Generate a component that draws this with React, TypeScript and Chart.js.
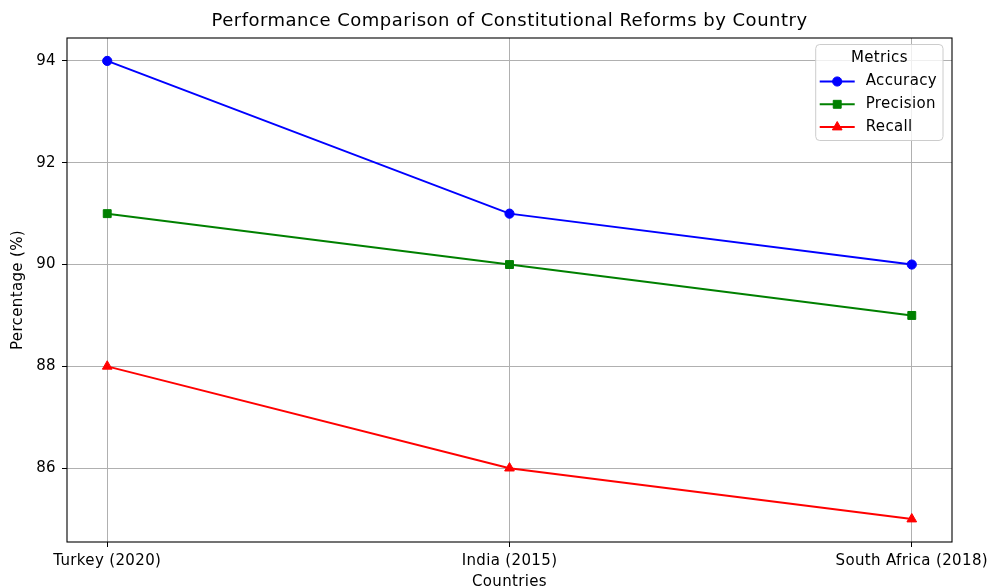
import React, { useEffect, useRef } from "react";
import { Chart, registerables } from "chart.js";

Chart.register(...registerables);

const titleText = "Performance Comparison of Constitutional Reforms by Country";
const countries = ["Turkey (2020)", "India (2015)", "South Africa (2018)"];
const accuracy = [94, 91, 90];
const precision = [91, 90, 89];
const recall = [88, 86, 85];
const yTickValues = [86, 88, 90, 92, 94];
const seriesNames = ["Accuracy", "Precision", "Recall"];
const seriesColors = ["#0000ff", "#008000", "#ff0000"];
const seriesMarkers = ["circle", "rect", "triangle"];
const markerRadii = [4.6, 5.6, 5.6];

const FONT = "'DejaVu Sans', sans-serif";
const SPACING = "0.35px";
const FS = 15;

const spacingPlugin = {
  id: "spacing",
  beforeUpdate(chart: any) {
    (chart.ctx as any).letterSpacing = SPACING;
  },
  beforeDraw(chart: any) {
    (chart.ctx as any).letterSpacing = SPACING;
  },
};

const framePlugin = {
  id: "frame",
  afterDatasetsDraw(chart: any) {
    const { ctx, chartArea } = chart;
    ctx.save();
    ctx.strokeStyle = "#000";
    ctx.lineWidth = 1.1;
    ctx.strokeRect(chartArea.left, chartArea.top, chartArea.right - chartArea.left, chartArea.bottom - chartArea.top);
    ctx.restore();
  },
};

const titlePlugin = {
  id: "mplTitle",
  afterDraw(chart: any) {
    const { ctx, chartArea } = chart;
    ctx.save();
    (ctx as any).letterSpacing = "0.5px";
    ctx.font = `18px ${FONT}`;
    ctx.fillStyle = "#000";
    ctx.textAlign = "center";
    ctx.textBaseline = "middle";
    ctx.fillText(titleText, (chartArea.left + chartArea.right) / 2, 21);
    ctx.restore();
  },
};

function drawMarker(ctx: CanvasRenderingContext2D, style: string, radius: number, x: number, y: number) {
  ctx.beginPath();
  if (style === "circle") {
    ctx.arc(x, y, radius, 0, Math.PI * 2);
  } else if (style === "rect") {
    const s = Math.SQRT1_2 * radius;
    ctx.rect(x - s, y - s, 2 * s, 2 * s);
  } else {
    let rad = 0;
    ctx.moveTo(x + Math.sin(rad) * radius, y - Math.cos(rad) * radius);
    rad += (2 * Math.PI) / 3;
    ctx.lineTo(x + Math.sin(rad) * radius, y - Math.cos(rad) * radius);
    rad += (2 * Math.PI) / 3;
    ctx.lineTo(x + Math.sin(rad) * radius, y - Math.cos(rad) * radius);
    ctx.closePath();
  }
  ctx.fill();
  ctx.stroke();
}

const legendPlugin = {
  id: "mplLegend",
  afterDraw(chart: any) {
    const { ctx, chartArea } = chart;
    ctx.save();
    (ctx as any).letterSpacing = SPACING;
    ctx.font = `${FS}px ${FONT}`;
    let maxW = 0;
    seriesNames.forEach((n) => {
      maxW = Math.max(maxW, ctx.measureText(n).width);
    });
    const w = maxW + 56;
    const h = 96;
    const right = chartArea.right - 9;
    const left = right - w;
    const top = chartArea.top + 6.5;
    const r = 4;
    ctx.beginPath();
    ctx.moveTo(left + r, top);
    ctx.lineTo(left + w - r, top);
    ctx.arcTo(left + w, top, left + w, top + r, r);
    ctx.lineTo(left + w, top + h - r);
    ctx.arcTo(left + w, top + h, left + w - r, top + h, r);
    ctx.lineTo(left + r, top + h);
    ctx.arcTo(left, top + h, left, top + h - r, r);
    ctx.lineTo(left, top + r);
    ctx.arcTo(left, top, left + r, top, r);
    ctx.closePath();
    ctx.fillStyle = "rgba(255,255,255,0.8)";
    ctx.fill();
    ctx.strokeStyle = "#cccccc";
    ctx.lineWidth = 1;
    ctx.stroke();
    ctx.fillStyle = "#000";
    ctx.textAlign = "center";
    ctx.textBaseline = "middle";
    ctx.fillText("Metrics", left + w / 2, top + 14);
    seriesNames.forEach((name, i) => {
      const y = top + 37 + i * 22.8;
      ctx.strokeStyle = seriesColors[i];
      ctx.lineWidth = 2;
      ctx.beginPath();
      ctx.moveTo(left + 4, y);
      ctx.lineTo(left + 39, y);
      ctx.stroke();
      ctx.fillStyle = seriesColors[i];
      ctx.strokeStyle = seriesColors[i];
      ctx.lineWidth = 1;
      drawMarker(ctx, seriesMarkers[i], markerRadii[i], left + 21.5, y);
      ctx.fillStyle = "#000";
      ctx.textAlign = "left";
      ctx.fillText(name, left + 50, y);
    });
    ctx.restore();
  },
};

export default function App() {
  const canvasRef = useRef<HTMLCanvasElement | null>(null);

  useEffect(() => {
    const canvas = canvasRef.current;
    if (!canvas) return;
    const seriesData = [accuracy, precision, recall];
    const chart = new Chart(canvas, {
      type: "line",
      data: {
        datasets: seriesData.map((arr, i) => ({
          label: seriesNames[i],
          data: arr.map((v, j) => ({ x: j, y: v })),
          borderColor: seriesColors[i],
          backgroundColor: seriesColors[i],
          borderWidth: 2,
          pointStyle: seriesMarkers[i] as any,
          pointRadius: markerRadii[i],
          pointBorderWidth: 1,
          pointBackgroundColor: seriesColors[i],
          pointBorderColor: seriesColors[i],
          tension: 0,
          fill: false,
        })),
      },
      options: {
        responsive: false,
        animation: false,
        devicePixelRatio: 1,
        layout: { padding: { left: 0, right: 36, top: 38, bottom: 0 } },
        plugins: {
          legend: { display: false },
          tooltip: { enabled: false },
          title: { display: false },
        },
        scales: {
          x: {
            type: "linear",
            min: -0.1,
            max: 2.1,
            afterBuildTicks(scale: any) {
              scale.ticks = countries.map((_, i) => ({ value: i }));
            },
            afterFit(scale: any) {
              scale.height = 46;
              scale.paddingLeft = 0;
              scale.paddingRight = 0;
            },
            ticks: {
              color: "#000",
              font: { family: FONT, size: FS },
              padding: 5,
              maxRotation: 0,
              autoSkip: false,
              callback: (v: any) => countries[Math.round(Number(v))] ?? "",
            },
            grid: {
              color: "#b0b0b0",
              lineWidth: 1,
              tickColor: "#000",
              tickLength: 5,
              drawTicks: true,
            },
            border: { display: false },
            title: {
              display: true,
              text: "Countries",
              color: "#000",
              font: { family: FONT, size: FS, lineHeight: 0.8 },
              padding: { top: 0, bottom: 0 },
            },
          },
          y: {
            type: "linear",
            min: 84.55,
            max: 94.45,
            afterBuildTicks(scale: any) {
              scale.ticks = yTickValues.map((v) => ({ value: v }));
            },
            afterFit(scale: any) {
              scale.width = 67;
              scale.paddingTop = 0;
              scale.paddingBottom = 0;
            },
            ticks: {
              color: "#000",
              font: { family: FONT, size: FS },
              padding: 6,
              callback: (v: any) => String(v),
            },
            grid: {
              color: "#b0b0b0",
              lineWidth: 1,
              tickColor: "#000",
              tickLength: 5,
              drawTicks: true,
            },
            border: { display: false },
            title: {
              display: true,
              text: "Percentage (%)",
              color: "#000",
              font: { family: FONT, size: FS, lineHeight: 1.2 },
              padding: { top: 9, bottom: 0 },
            },
          },
        },
      },
      plugins: [spacingPlugin, framePlugin, titlePlugin, legendPlugin],
    });
    return () => chart.destroy();
  }, []);

  return (
    <div style={{ position: "absolute", left: 0, top: 0, width: 988, height: 588, background: "#fff" }}>
      <canvas ref={canvasRef} width={988} height={588} style={{ display: "block", width: 988, height: 588 }} />
    </div>
  );
}
